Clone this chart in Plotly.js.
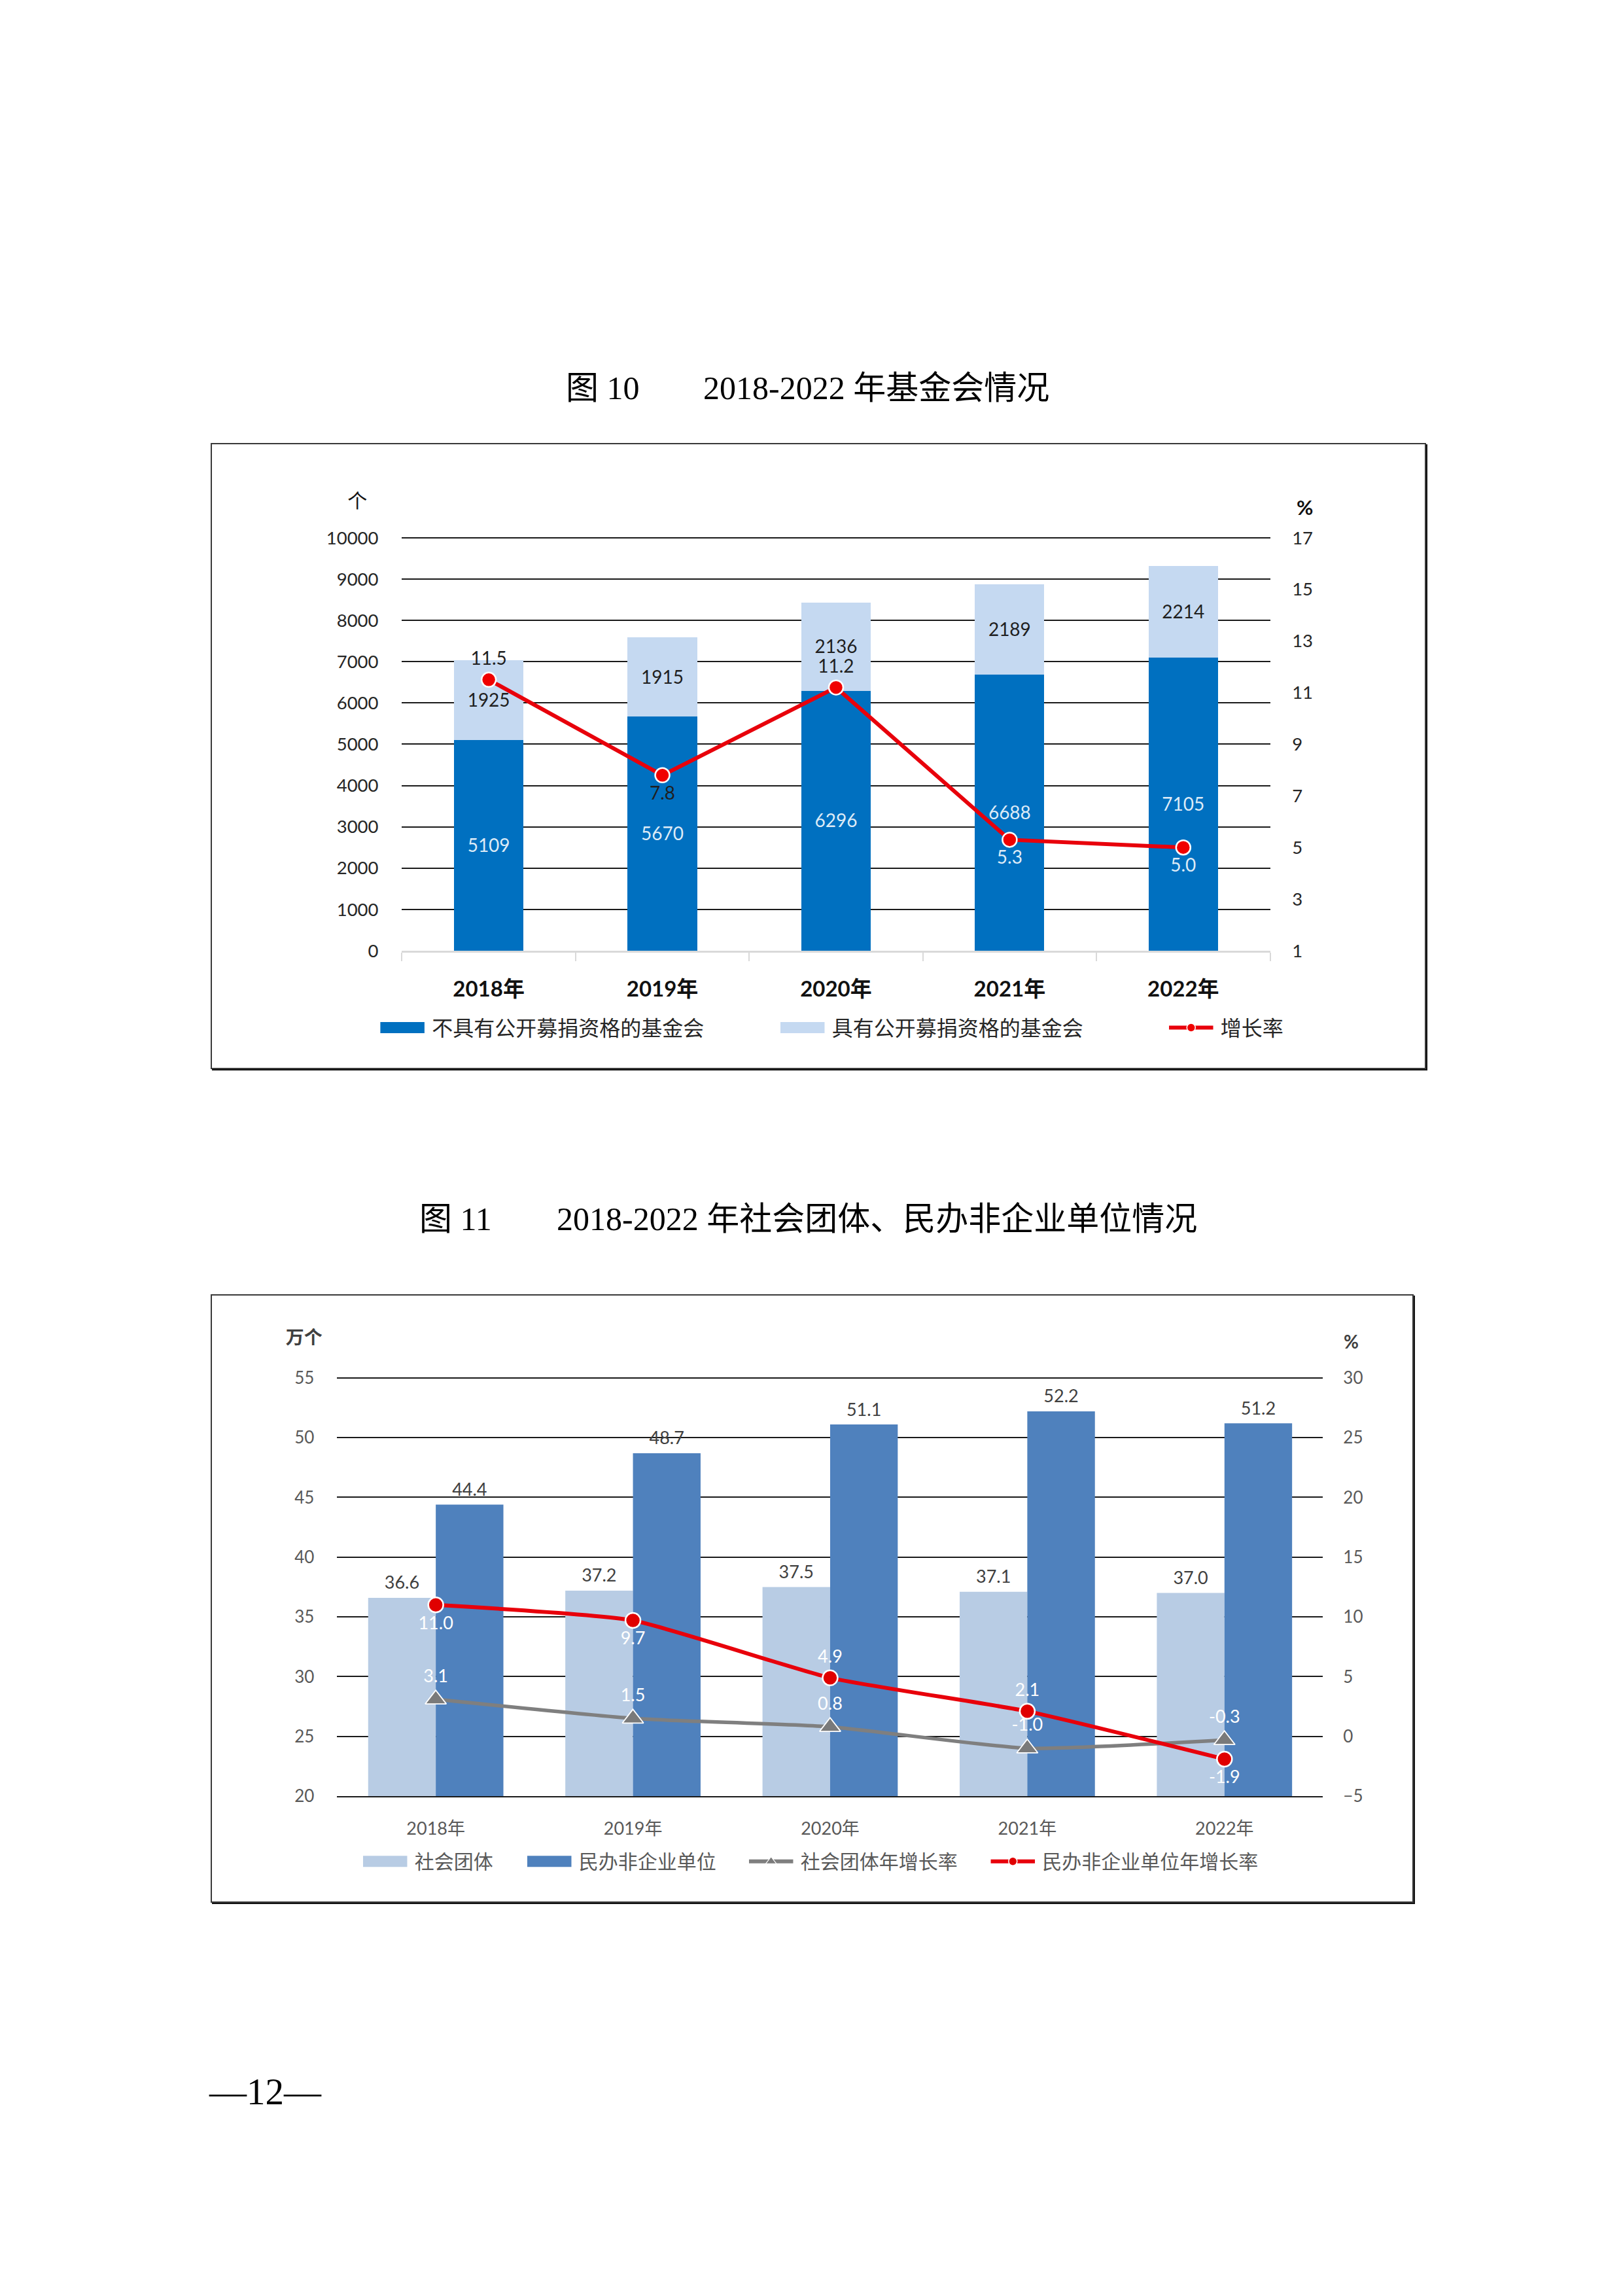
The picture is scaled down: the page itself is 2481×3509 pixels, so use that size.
<!DOCTYPE html>
<html><head><meta charset="utf-8">
<script src="https://cdn.plot.ly/plotly-3.0.1.min.js"></script>
<style>
html,body{margin:0;padding:0;background:#fff;}
body{width:2481px;height:3509px;position:relative;overflow:hidden;}
.t{position:absolute;font-family:"Liberation Serif","Noto Sans CJK SC",serif;color:#000;white-space:pre;line-height:1;}
.box{position:absolute;border:2px solid #3a3a3a;box-shadow:2px 2px 0 #111;box-sizing:border-box;}
.plot{position:absolute;transform-origin:0 0;}
</style></head><body>
<div class="t" id="t1a" style="left:865px;top:568px;font-size:50px;">图 10</div>
<div class="t" id="t1b" style="left:1075px;top:568px;font-size:50px;">2018-2022 年基金会情况</div>
<div class="box" style="left:322px;top:677px;width:1858px;height:957px;"></div>
<div class="plot" id="c1" style="left:322px;top:677px;"></div>

<div class="t" id="t2a" style="left:641px;top:1838px;font-size:50px;">图 11</div>
<div class="t" id="t2b" style="left:851px;top:1838px;font-size:50px;">2018-2022 年社会团体、民办非企业单位情况</div>
<div class="box" style="left:322px;top:1978px;width:1839px;height:930px;"></div>
<div class="plot" id="c2" style="left:322px;top:1978px;"></div>

<div class="t" style="left:320px;top:3168px;font-size:57px;">—12—</div>

<script>
// ---------- data ----------
const years = ['2018年', '2019年', '2020年', '2021年', '2022年'];
const fdnNoPublic = [5109, 5670, 6296, 6688, 7105];
const fdnPublic = [1925, 1915, 2136, 2189, 2214];
const fdnGrowth = [11.5, 7.8, 11.2, 5.3, 5.0];

const socGroups = [36.6, 37.2, 37.5, 37.1, 37.0];
const privNonEnt = [44.4, 48.7, 51.1, 52.2, 51.2];
const socGrowth = [3.1, 1.5, 0.8, -1.0, -0.3];
const privGrowth = [11.0, 9.7, 4.9, 2.1, -1.9];

const names1 = ['不具有公开募捐资格的基金会', '具有公开募捐资格的基金会', '增长率'];
const names2 = ['社会团体', '民办非企业单位', '社会团体年增长率', '民办非企业单位年增长率'];

// ---------- scale helpers ----------
const S = 2481 / 1103;
const f = v => v / S;
const FONT = "Lato, 'Noto Sans CJK SC', sans-serif";
const CLEAR = 'rgba(0,0,0,0)';

function place(id, w, h) {
  const el = document.getElementById(id);
  el.style.width = f(w) + 'px';
  el.style.height = f(h) + 'px';
  el.style.transform = 'scale(' + S + ')';
  return el;
}

// ---------- chart 1 ----------
(function () {
  const W = 1858, H = 957;
  const yTop = 10086;
  const k = (1464.8 - 822.4) / 10000;
  const plotTop = 1464.8 - yTop * k;
  const L = 615.5 - 322, R = 2180 - 1942.5, T = plotTop - 677, B = 1634 - 1464.8;
  const el = place('c1', W, H);
  const pw = W - L - R, ph = H - T - B;
  const px = v => (v - 615.5) / pw;
  const py = v => (1464.8 - v) / ph;
  const traces = [
    {type: 'bar', x: years, y: fdnNoPublic, name: names1[0], legendgroup: 'a', showlegend: false,
      marker: {color: '#0070C0'}, width: 0.4,
      texttemplate: '%{y}', textposition: 'inside', insidetextanchor: 'middle', textangle: 0, constraintext: 'none',
      textfont: {family: FONT, size: f(28), color: '#DDEBF7'}},
    {type: 'bar', x: years, y: fdnPublic, name: names1[1], legendgroup: 'b', showlegend: false,
      marker: {color: '#C5D9F1'}, width: 0.4,
      texttemplate: '%{y}', textposition: 'inside', insidetextanchor: 'middle', textangle: 0, constraintext: 'none',
      textfont: {family: FONT, size: f(28), color: '#1F1F1F'}},
    {type: 'scatter', x: years, y: fdnGrowth, xaxis: 'x2', yaxis: 'y2', name: names1[2], legendgroup: 'c', showlegend: false,
      mode: 'lines+markers+text', cliponaxis: false,
      line: {color: '#E8000B', width: f(6)},
      marker: {size: f(22), color: '#F00000', line: {color: '#FFFFFF', width: f(2.5)}},
      texttemplate: '%{y:.1f}',
      textposition: ['top center', 'bottom center', 'top center', 'bottom center', 'bottom center'],
      textfont: {family: FONT, size: f(28), color: ['#1F1F1F', '#1F1F1F', '#1F1F1F', '#DDEBF7', '#DDEBF7']}},
    // legend entries
    {type: 'scatter', x: [null], y: [null], mode: 'lines', name: names1[0], legendgroup: 'a',
      line: {color: '#0070C0', width: f(17)}, legendwidth: 226.9},
    {type: 'scatter', x: [null], y: [null], mode: 'lines', name: names1[1], legendgroup: 'b',
      line: {color: '#C5D9F1', width: f(17)}, legendwidth: 219.1},
    {type: 'scatter', x: [null], y: [null], mode: 'lines+markers', name: names1[2], legendgroup: 'c',
      line: {color: '#E8000B', width: f(6)}, marker: {size: f(13), color: '#F00000', line: {color: '#fff', width: f(1.5)}}}
  ];
  const tickF = {family: FONT, size: f(27.5), color: '#262626'};
  const layout = {
    width: f(W), height: f(H),
    margin: {l: f(L), r: f(R), t: f(T), b: f(B), pad: 0},
    barmode: 'stack',
    paper_bgcolor: CLEAR, plot_bgcolor: CLEAR,
    font: {family: FONT, size: f(28), color: '#262626'},
    hovermode: false,
    xaxis: {type: 'category', range: [-0.5, 4.5], showline: true, linecolor: '#D9D9D9', linewidth: f(2.5),
      ticks: 'outside', tickson: 'boundaries', ticklen: f(13), tickcolor: '#D9D9D9', tickwidth: f(2),
      showticklabels: false, showgrid: false, zeroline: false},
    xaxis2: {type: 'category', overlaying: 'x', anchor: 'y', side: 'bottom', range: [-0.5, 4.5],
      showline: false, showgrid: false, zeroline: false,
      ticks: 'outside', ticklen: 12.6, tickcolor: CLEAR,
      tickfont: {family: FONT, size: f(33), color: '#111111', weight: 'bold'}},
    yaxis: {range: [0, yTop], tick0: 0, dtick: 1000, tickformat: 'd', showgrid: true, gridcolor: '#1A1A1A', gridwidth: f(2),
      zeroline: false, showline: false,
      ticks: 'outside', ticklen: 12.5, tickcolor: CLEAR, tickfont: tickF},
    yaxis2: {overlaying: 'y', anchor: 'x', side: 'right', range: [1, 1 + 16 * yTop / 10000], tick0: 1, dtick: 2,
      showgrid: false, zeroline: false, showline: false,
      ticks: 'outside', ticklen: 11.5, tickcolor: CLEAR, tickfont: tickF},
    legend: {orientation: 'h', x: px(582.5 - 11.25), xanchor: 'left', y: py(1585), yanchor: 'middle',
      font: {family: FONT, size: f(32), color: '#262626'}, itemwidth: 30, bgcolor: CLEAR,
      traceorder: 'normal'},
    annotations: [
      {text: '个', xref: 'paper', yref: 'paper', x: px(546), y: py(765), xanchor: 'center', yanchor: 'middle',
        showarrow: false, font: {family: FONT, size: f(30), color: '#111'}},
      {text: '%', xref: 'paper', yref: 'paper', x: px(1996), y: py(775), xanchor: 'center', yanchor: 'middle',
        showarrow: false, font: {family: FONT, size: f(31), color: '#111', weight: 'bold'}}
    ]
  };
  Plotly.newPlot(el, traces, layout, {staticPlot: true, displayModeBar: false});
})();

// ---------- chart 2 ----------
(function () {
  const W = 1839, H = 930;
  const yTop = 55.35;
  const k = (2760.3 - 2106.8) / 35;
  const plotTop = 2760.3 - (yTop - 20) * k;
  const L = 516.5 - 322, R = 2161 - 2021, T = plotTop - 1978, B = 2908 - 2760.3;
  const el = place('c2', W, H);
  const pw = W - L - R, ph = H - T - B;
  const px = v => (v - 516.5) / pw;
  const py = v => (2760.3 - v) / ph;
  const traces = [
    {type: 'bar', x: years, y: socGroups, name: names2[0], legendgroup: 'a', showlegend: false,
      marker: {color: '#B8CCE4'}, texttemplate: '%{y:.1f}', textposition: 'outside', cliponaxis: false,
      textangle: 0, constraintext: 'none', textfont: {family: FONT, size: f(27), color: '#404040'}},
    {type: 'bar', x: years, y: privNonEnt, name: names2[1], legendgroup: 'b', showlegend: false,
      marker: {color: '#4F81BD'}, texttemplate: '%{y:.1f}', textposition: 'outside', cliponaxis: false,
      textangle: 0, constraintext: 'none', textfont: {family: FONT, size: f(27), color: '#404040'}},
    {type: 'scatter', x: years, y: socGrowth, yaxis: 'y2', name: names2[2], legendgroup: 'c', showlegend: false,
      mode: 'lines+markers+text', cliponaxis: false,
      line: {color: '#7F7F7F', width: f(5.5), shape: 'spline', smoothing: 0.5},
      marker: {symbol: 'triangle-up', size: f(28), color: '#7A7A7A', line: {color: '#FFFFFF', width: f(1.8)}},
      texttemplate: '%{y:.1f}', textposition: 'top center',
      textfont: {family: FONT, size: f(27), color: '#FFFFFF'}},
    {type: 'scatter', x: years, y: privGrowth, yaxis: 'y2', name: names2[3], legendgroup: 'd', showlegend: false,
      mode: 'lines+markers+text', cliponaxis: false,
      line: {color: '#E8000B', width: f(6), shape: 'spline', smoothing: 0.5},
      marker: {size: f(23), color: '#E00000', line: {color: '#FFFFFF', width: f(2.5)}},
      texttemplate: '%{y:.1f}',
      textposition: ['bottom center', 'bottom center', 'top center', 'top center', 'bottom center'],
      textfont: {family: FONT, size: f(27), color: '#FFFFFF'}},
    // legend entries
    {type: 'scatter', x: [null], y: [null], mode: 'lines', name: names2[0], legendgroup: 'a',
      line: {color: '#B8CCE4', width: f(17)}, legendwidth: 66.6},
    {type: 'scatter', x: [null], y: [null], mode: 'lines', name: names2[1], legendgroup: 'b',
      line: {color: '#4F81BD', width: f(17)}, legendwidth: 105.7},
    {type: 'scatter', x: [null], y: [null], mode: 'lines+markers', name: names2[2], legendgroup: 'c',
      line: {color: '#7F7F7F', width: f(6)}, legendwidth: 119.3,
      marker: {symbol: 'triangle-up', size: f(14), color: '#7A7A7A', line: {color: '#fff', width: f(1.2)}}},
    {type: 'scatter', x: [null], y: [null], mode: 'lines+markers', name: names2[3], legendgroup: 'd',
      line: {color: '#E8000B', width: f(6)},
      marker: {size: f(13), color: '#E00000', line: {color: '#fff', width: f(1.5)}}}
  ];
  const tickF = {family: FONT, size: f(26), color: '#595959'};
  const layout = {
    width: f(W), height: f(H),
    margin: {l: f(L), r: f(R), t: f(T), b: f(B), pad: 0},
    barmode: 'group', bargap: 0.314, bargroupgap: 0,
    paper_bgcolor: CLEAR, plot_bgcolor: CLEAR,
    font: {family: FONT, size: f(27), color: '#595959'},
    hovermode: false,
    xaxis: {type: 'category', showline: true, linecolor: '#1A1A1A', linewidth: f(2), showgrid: false, zeroline: false,
      ticks: 'outside', ticklen: 10.8, tickcolor: CLEAR,
      tickfont: {family: FONT, size: f(27), color: '#595959'}},
    yaxis: {range: [20, yTop], tick0: 20, dtick: 5, showgrid: true, gridcolor: '#1A1A1A', gridwidth: f(2),
      zeroline: false, showline: false, ticks: 'outside', ticklen: 12.3, tickcolor: CLEAR, tickfont: tickF},
    yaxis2: {overlaying: 'y', side: 'right', range: [-5, yTop - 25], tick0: -5, dtick: 5,
      showgrid: false, zeroline: false, showline: false, ticks: 'outside', ticklen: 10.4, tickcolor: CLEAR,
      tickfont: tickF},
    legend: {orientation: 'h', x: px(556 - 11.25), xanchor: 'left', y: py(2863), yanchor: 'middle',
      font: {family: FONT, size: f(30), color: '#595959'}, itemwidth: 30, bgcolor: CLEAR,
      traceorder: 'normal'},
    annotations: [
      {text: '万个', xref: 'paper', yref: 'paper', x: px(466), y: py(2043.6), xanchor: 'center', yanchor: 'middle',
        showarrow: false, font: {family: FONT, size: f(28), color: '#404040', weight: 'bold'}},
      {text: '%', xref: 'paper', yref: 'paper', x: px(2063), y: py(2051.5), xanchor: 'center', yanchor: 'middle',
        showarrow: false, font: {family: FONT, size: f(28), color: '#404040', weight: 'bold'}}
    ]
  };
  Plotly.newPlot(el, traces, layout, {staticPlot: true, displayModeBar: false});
})();
</script>
</body></html>
